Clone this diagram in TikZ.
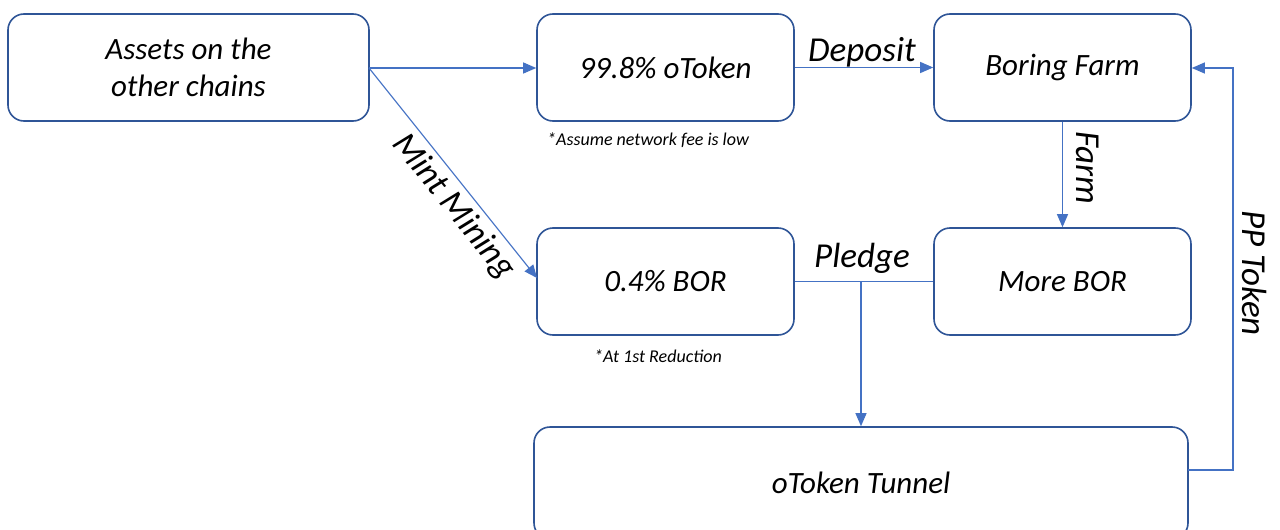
\documentclass[tikz,border=0pt]{standalone}
\usepackage{fontspec}
\setmainfont{Carlito}
\usetikzlibrary{arrows.meta}
\definecolor{boxblue}{HTML}{2F5597}
\definecolor{arrblue}{HTML}{4472C4}
\tikzset{
  box/.style={draw=boxblue, line width=1.6pt, rounded corners=16pt, fill=white, inner sep=0pt, font=\fontsize{31}{37}\selectfont\itshape, align=center},
  conn/.style={draw=arrblue, line width=1.1pt, -{Triangle[length=13pt,width=11pt]}},
  plain/.style={draw=arrblue, line width=1.1pt},
  lbl/.style={font=\fontsize{35}{40}\selectfont\itshape, inner sep=0pt},
  note/.style={font=\fontsize{18}{20}\selectfont\itshape, inner sep=0pt}
}
\begin{document}
\begin{tikzpicture}[x=1pt,y=-1pt]
\useasboundingbox (0,0) rectangle (1280,530);
\begin{scope}
\clip (0,0) rectangle (1280,530);
\node[box, minimum width=361pt, minimum height=107pt] (assets) at (188.5,67.5) {Assets on the\\other chains};
\node[box, minimum width=257pt, minimum height=107pt] (otok) at (665.5,67.5) {99.8\% oToken};
\node[box, minimum width=257pt, minimum height=107pt] (farm) at (1062.5,67.5) {Boring Farm};
\node[box, minimum width=257pt, minimum height=107pt] (bor) at (665.5,281.5) {0.4\% BOR};
\node[box, minimum width=257pt, minimum height=107pt] (more) at (1062.5,281.5) {More BOR};
\node[box, minimum width=654pt, minimum height=112pt] (tunnel) at (861,483) {oToken Tunnel};
\end{scope}
\node[note] (n1) at (648,140) {*Assume network fee is low};
\node[note] (n2) at (658,356) {*At 1st Reduction};

\coordinate (a0) at (369,68);
\draw[conn] (a0) -- (otok.west |- a0);
\draw[conn] (a0) -- node[lbl, sloped, below=5pt, pos=0.6] (mm) {Mint Mining} (537,278);
\draw[conn] (otok.east) -- (farm.west);
\node[lbl] (dep) at (862,52) {Deposit};
\draw[conn] (farm.south) -- (more.north);
\node[lbl, rotate=-90] (fl) at (1088,168) {Farm};
\coordinate (pj) at (861,281);
\draw[plain] (more.west) -- (bor.east);
\draw[conn] (pj) -- (pj |- tunnel.north);
\node[lbl] (pl) at (862,258) {Pledge};
\coordinate (t1) at (1188,470);
\coordinate (t2) at (1233,470);
\coordinate (t3) at (1233,68);
\draw[conn] (t1) -- (t2) -- (t3) -- (farm.east |- t3);
\node[lbl, rotate=-90] (pp) at (1255,273) {PP Token};
\end{tikzpicture}
\end{document}
